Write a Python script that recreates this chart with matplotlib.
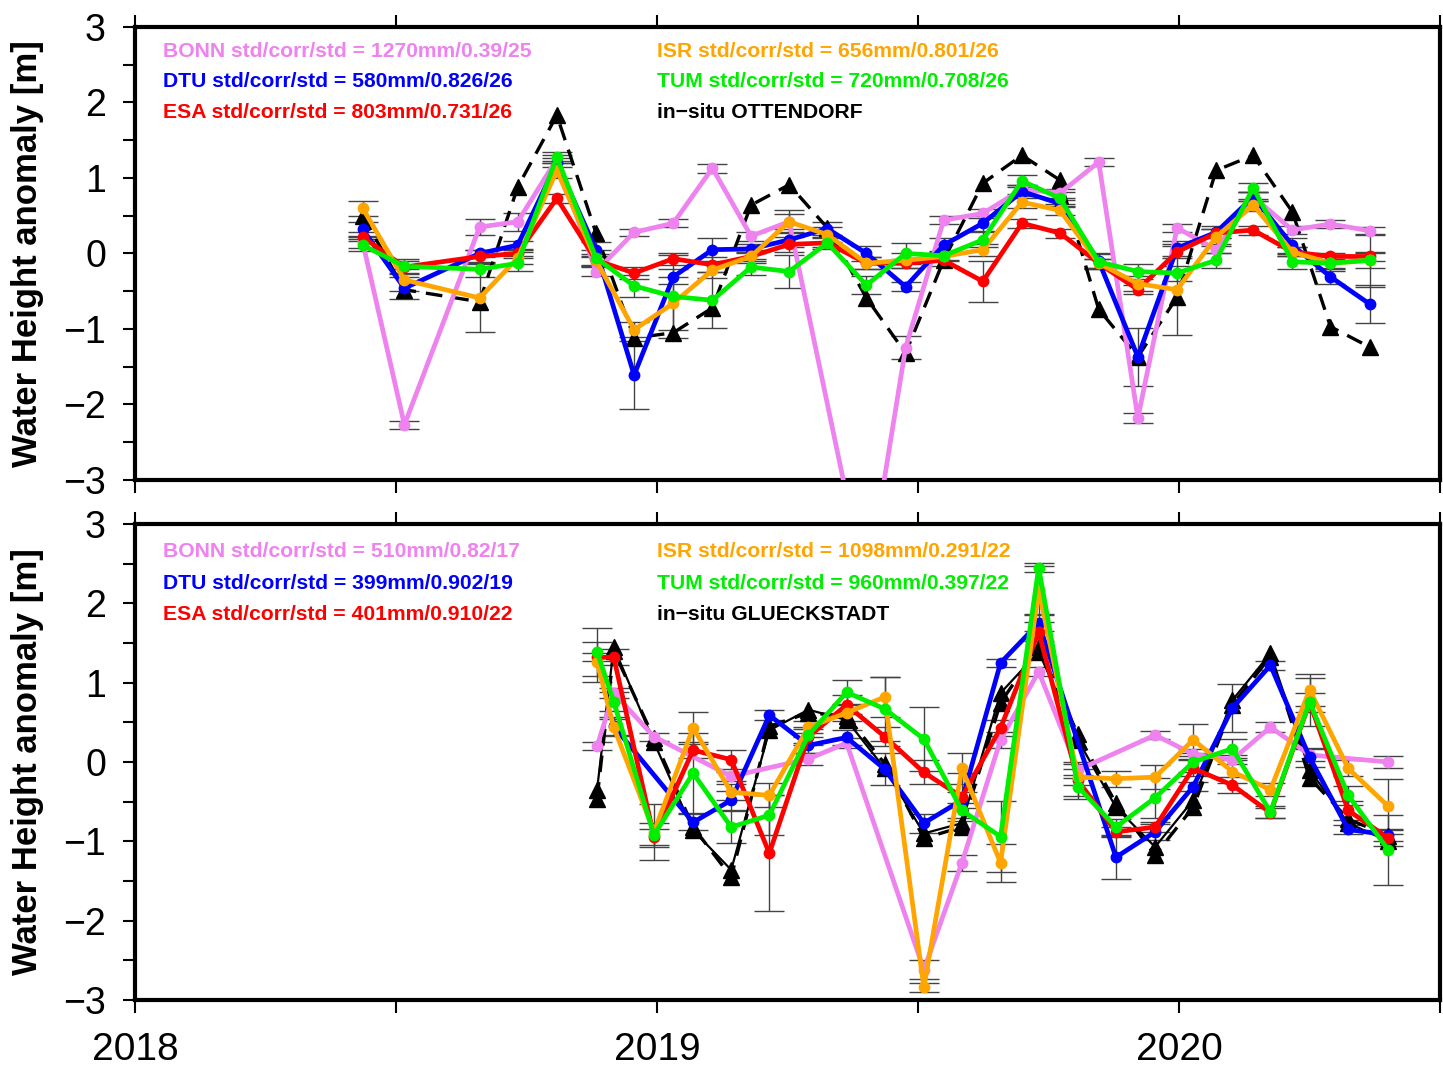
import numpy as np
import matplotlib
matplotlib.use("Agg")
import matplotlib.pyplot as plt
from matplotlib.ticker import MultipleLocator

nan = np.nan

# ---- top panel: OTTENDORF ----
t_top = [2018.436, 2018.516, 2018.660, 2018.733, 2018.808, 2018.883, 2018.956, 2019.031,
         2019.106, 2019.180, 2019.253, 2019.326, 2019.401, 2019.476, 2019.549, 2019.624,
         2019.699, 2019.772, 2019.846, 2019.921, 2019.996, 2020.071, 2020.142, 2020.217,
         2020.290, 2020.365]
bonn_top = [0.15, -2.27, 0.35, 0.42, 1.25, -0.24, 0.28, 0.40, 1.13, 0.23, 0.42, nan, -4.46,
            -1.25, 0.44, 0.53, 0.85, 0.80, 1.21, -2.18, 0.34, 0.05, 0.75, 0.31, 0.39, 0.30]
dtu_top = [0.32, -0.46, 0.0, 0.11, 1.2, 0.05, -1.61, -0.31, 0.05, 0.06, 0.18, 0.33, 0.0,
           -0.44, 0.11, 0.40, 0.82, 0.66, -0.1, -1.37, 0.07, 0.28, 0.75, 0.11, -0.31, -0.67]
esa_top = [0.22, -0.18, -0.04, 0.0, 0.73, -0.09, -0.26, -0.07, -0.15, -0.04, 0.12, 0.14, -0.13,
           -0.13, -0.09, -0.37, 0.40, 0.27, -0.13, -0.48, 0.02, 0.27, 0.31, 0.02, -0.04, -0.04]
isr_top = [0.60, -0.35, -0.59, -0.06, 1.10, -0.09, -1.01, -0.66, -0.22, -0.04, 0.42, 0.25, -0.13,
           -0.09, -0.04, 0.05, 0.68, 0.57, -0.13, -0.40, -0.48, 0.22, 0.64, 0.02, -0.13, -0.09]
tum_top = [0.11, -0.17, -0.21, -0.13, 1.28, -0.06, -0.43, -0.57, -0.62, -0.18, -0.24, 0.14, -0.42,
           0.0, -0.03, 0.18, 0.96, 0.73, -0.11, -0.24, -0.26, -0.09, 0.87, -0.11, -0.13, -0.09]
insitu_top = [0.50, -0.48, -0.64, 0.88, 1.83, 0.27, -1.12, -1.05, -0.72, 0.64, 0.91, 0.34, -0.59,
              -1.32, -0.09, 0.93, 1.30, 0.97, -0.74, -1.37, -0.58, 1.10, 1.30, 0.55, -0.97, -1.24]

bonn_err_top = [0.08, 0.05, 0.1, 0.12, 0.05, 0.06, 0.05, 0.05, 0.06, 0.06, 0.1, nan, 0.1,
                0.15, 0.05, 0.06, 0.06, 0.06, 0.05, 0.07, 0.05, 0.05, 0.06, 0.05, 0.05, 0.05]
dtu_err_top = [0.1, 0.15, 0.05, 0.06, 0.06, 0.1, 0.45, 0.1, 0.15, 0.06, 0.1, 0.08, 0.1,
               0.06, 0.1, 0.1, 0.08, 0.05, 0.1, 0.38, 0.1, 0.08, 0.06, 0.1, 0.1, 0.25]
esa_err_top = [0.06, 0.08, 0.08, 0.06, 0.06, 0.06, 0.08, 0.08, 0.1, 0.06, 0.1, 0.06, 0.08,
               0.06, 0.08, 0.27, 0.06, 0.06, 0.06, 0.06, 0.08, 0.06, 0.06, 0.06, 0.05, 0.06]
isr_err_top = [0.1, 0.15, 0.45, 0.08, 0.1, 0.08, 0.1, 0.35, 0.1, 0.08, 0.15, 0.1, 0.08,
               0.1, 0.06, 0.08, 0.08, 0.06, 0.06, 0.1, 0.6, 0.1, 0.08, 0.06, 0.1, 0.1]
tum_err_top = [0.08, 0.1, 0.1, 0.1, 0.06, 0.1, 0.15, 0.55, 0.37, 0.1, 0.22, 0.08, 0.12,
               0.14, 0.06, 0.1, 0.08, 0.08, 0.1, 0.1, 0.1, 0.1, 0.06, 0.1, 0.06, 0.35]

labels_top = ["BONN std/corr/std = 1270mm/0.39/25",
              "DTU std/corr/std = 580mm/0.826/26",
              "ESA std/corr/std = 803mm/0.731/26",
              "ISR std/corr/std = 656mm/0.801/26",
              "TUM std/corr/std = 720mm/0.708/26",
              "in\u2212situ OTTENDORF"]

# ---- bottom panel: GLUECKSTADT ----
t_bot = [2018.885, 2018.917, 2018.994, 2019.069, 2019.142, 2019.215, 2019.290, 2019.363,
         2019.436, 2019.511, 2019.584, 2019.658, 2019.731, 2019.806, 2019.879, 2019.954,
         2020.027, 2020.102, 2020.175, 2020.250, 2020.324, 2020.401]
bonn_bot = [0.20, 0.87, 0.32, nan, -0.18, nan, 0.04, 0.24, nan, -2.62, -1.27, 0.28, 1.14,
            -0.10, nan, 0.34, 0.10, 0.03, 0.44, 0.09, nan, 0.0]
dtu_bot = [nan, 0.45, nan, -0.76, -0.48, 0.59, 0.21, 0.31, -0.09, -0.77, -0.48, 1.25, 1.75,
           nan, -1.20, -0.88, -0.31, 0.68, 1.22, 0.06, -0.85, -0.92]
esa_bot = [1.32, 1.32, -0.94, 0.15, 0.03, -1.15, 0.32, 0.72, 0.32, -0.13, -0.44, 0.43, 1.64,
           -0.23, -0.88, -0.82, -0.08, -0.29, -0.64, 0.75, -0.61, -0.96]
isr_bot = [1.26, 0.44, -0.88, 0.43, -0.38, -0.42, 0.44, 0.62, 0.82, -2.84, -0.08, -1.27, 2.17,
           -0.19, -0.21, -0.19, 0.28, -0.12, -0.35, 0.91, -0.08, -0.56]
tum_bot = [1.39, 0.76, -0.92, -0.14, -0.82, -0.67, 0.34, 0.88, 0.67, 0.29, -0.61, -0.94, 2.45,
           -0.31, -0.82, -0.45, 0.0, 0.17, -0.63, 0.76, -0.42, -1.11]
insitu_bot = [-0.35, 1.45, 0.25, -0.86, -1.36, 0.40, 0.66, 0.53, -0.08, -0.90, -0.77, 0.87,
              1.39, 0.28, -0.57, -1.07, -0.48, 0.78, 1.37, -0.10, -0.77, -1.00]
insitu_bot2 = [-0.46, 1.40, 0.30, -0.82, -1.45, 0.45, 0.62, 0.58, -0.02, -0.96, -0.82, 0.75,
               1.45, 0.35, -0.52, -1.17, -0.57, 0.72, 1.33, -0.20, -0.72, -0.93]

bonn_err_bot = [0.05, 0.06, 0.05, nan, 0.06, nan, 0.08, 0.06, nan, 0.12, 0.1, 0.1, 0.06,
                0.1, nan, 0.05, 0.06, 0.06, 0.06, 0.08, nan, 0.08]
dtu_err_bot = [nan, 0.12, nan, 0.1, 0.12, 0.06, 0.1, 0.1, 0.2, 0.12, 0.1, 0.05, 0.1,
               nan, 0.27, 0.1, 0.06, 0.3, 0.06, 0.12, 0.06, 0.08]
esa_err_bot = [0.05, 0.1, 0.1, 0.1, 0.12, 0.73, 0.1, 0.12, 0.12, 0.15, 0.3, 0.1, 0.12,
               0.2, 0.06, 0.06, 0.1, 0.1, 0.06, 0.12, 0.12, 0.1]
isr_err_bot = [0.25, 0.1, 0.35, 0.2, 0.1, 0.15, 0.08, 0.1, 0.25, 0.06, 0.2, 0.24, 0.3,
               0.1, 0.1, 0.15, 0.2, 0.15, 0.08, 0.2, 0.1, 0.35]
tum_err_bot = [0.3, 0.12, 0.15, 0.5, 0.2, 0.25, 0.1, 0.15, 0.4, 0.4, 0.1, 0.45, 0.06,
               0.15, 0.1, 0.25, 0.12, 0.12, 0.08, 0.3, 0.12, 0.44]

labels_bot = ["BONN std/corr/std = 510mm/0.82/17",
              "DTU std/corr/std = 399mm/0.902/19",
              "ESA std/corr/std = 401mm/0.910/22",
              "ISR std/corr/std = 1098mm/0.291/22",
              "TUM std/corr/std = 960mm/0.397/22",
              "in\u2212situ GLUECKSTADT"]

colors = ["violet", "#0000ff", "#ff0000", "#ffa500", "#00ee00"]
txt_colors = colors + ["black"]

plt.rcParams['font.family'] = ['Liberation Sans', 'DejaVu Sans']


def draw_panel(ax, t, series, errs, insitu_list, labels, text_rows):
    t = np.array(t)
    # error bars first, under the lines
    for vals, err in zip(series, errs):
        v = np.array(vals, dtype=float)
        e = np.array(err, dtype=float)
        m = np.isfinite(v)
        ax.errorbar(t[m], v[m], yerr=e[m], fmt='none', ecolor='#444444',
                    elinewidth=1.0, capsize=11, capthick=1.0, zorder=1)
    # in-situ
    styles = [dict(ls=(0, (5, 3)), lw=2.4), dict(ls='-', lw=1.6)]
    for vals, st in zip(insitu_list, styles):
        v = np.array(vals, dtype=float)
        m = np.isfinite(v)
        ax.plot(t[m], v[m], color='black', marker='^', ms=11, zorder=2, **st)
    for vals, c in zip(series, colors):
        v = np.array(vals, dtype=float)
        m = np.isfinite(v)
        ax.plot(t[m], v[m], color=c, lw=3.4, marker='o', ms=7.5, zorder=3)

    xs = [0.0215, 0.0215, 0.0215, 0.40, 0.40, 0.40]
    for lab, c, x, y in zip(labels, txt_colors, xs, text_rows + text_rows):
        ax.text(x, y, lab, color=c, transform=ax.transAxes, fontsize=15.2,
                fontweight='bold', va='center', ha='left')

    ax.set_xlim(2018.0, 2020.5)
    ax.set_ylim(-3, 3)
    ax.yaxis.set_major_locator(MultipleLocator(1))
    ax.yaxis.set_minor_locator(MultipleLocator(0.5))
    ax.xaxis.set_major_locator(MultipleLocator(1))
    ax.xaxis.set_minor_locator(MultipleLocator(0.5))
    ax.tick_params(axis='both', which='both', direction='out', length=9, width=1.5,
                   top=True, right=False)
    ax.tick_params(axis='y', labelsize=27, pad=12)
    ax.tick_params(axis='x', labelsize=28, pad=14)
    for sp in ax.spines.values():
        sp.set_linewidth(3)
    ax.set_ylabel("Water Height anomaly [m]", fontsize=25, fontweight='bold', labelpad=14)


fig = plt.figure(figsize=(14.43, 10.73), dpi=100)
ax1 = fig.add_axes([0.0936, 0.5527, 0.9044, 0.4222])
ax2 = fig.add_axes([0.0936, 0.0680, 0.9044, 0.4436])

draw_panel(ax1, t_top,
           [bonn_top, dtu_top, esa_top, isr_top, tum_top],
           [bonn_err_top, dtu_err_top, esa_err_top, isr_err_top, tum_err_top],
           [insitu_top], labels_top, [0.945, 0.879, 0.812])
ax1.tick_params(axis='x', labelbottom=False)

draw_panel(ax2, t_bot,
           [bonn_bot, dtu_bot, esa_bot, isr_bot, tum_bot],
           [bonn_err_bot, dtu_err_bot, esa_err_bot, isr_err_bot, tum_err_bot],
           [insitu_bot2, insitu_bot], labels_bot, [0.943, 0.876, 0.809])
ax2.set_xticks([2018, 2019, 2020])
ax2.set_xticklabels(["2018", "2019", "2020"])

fig.savefig("out.png", dpi=100)
